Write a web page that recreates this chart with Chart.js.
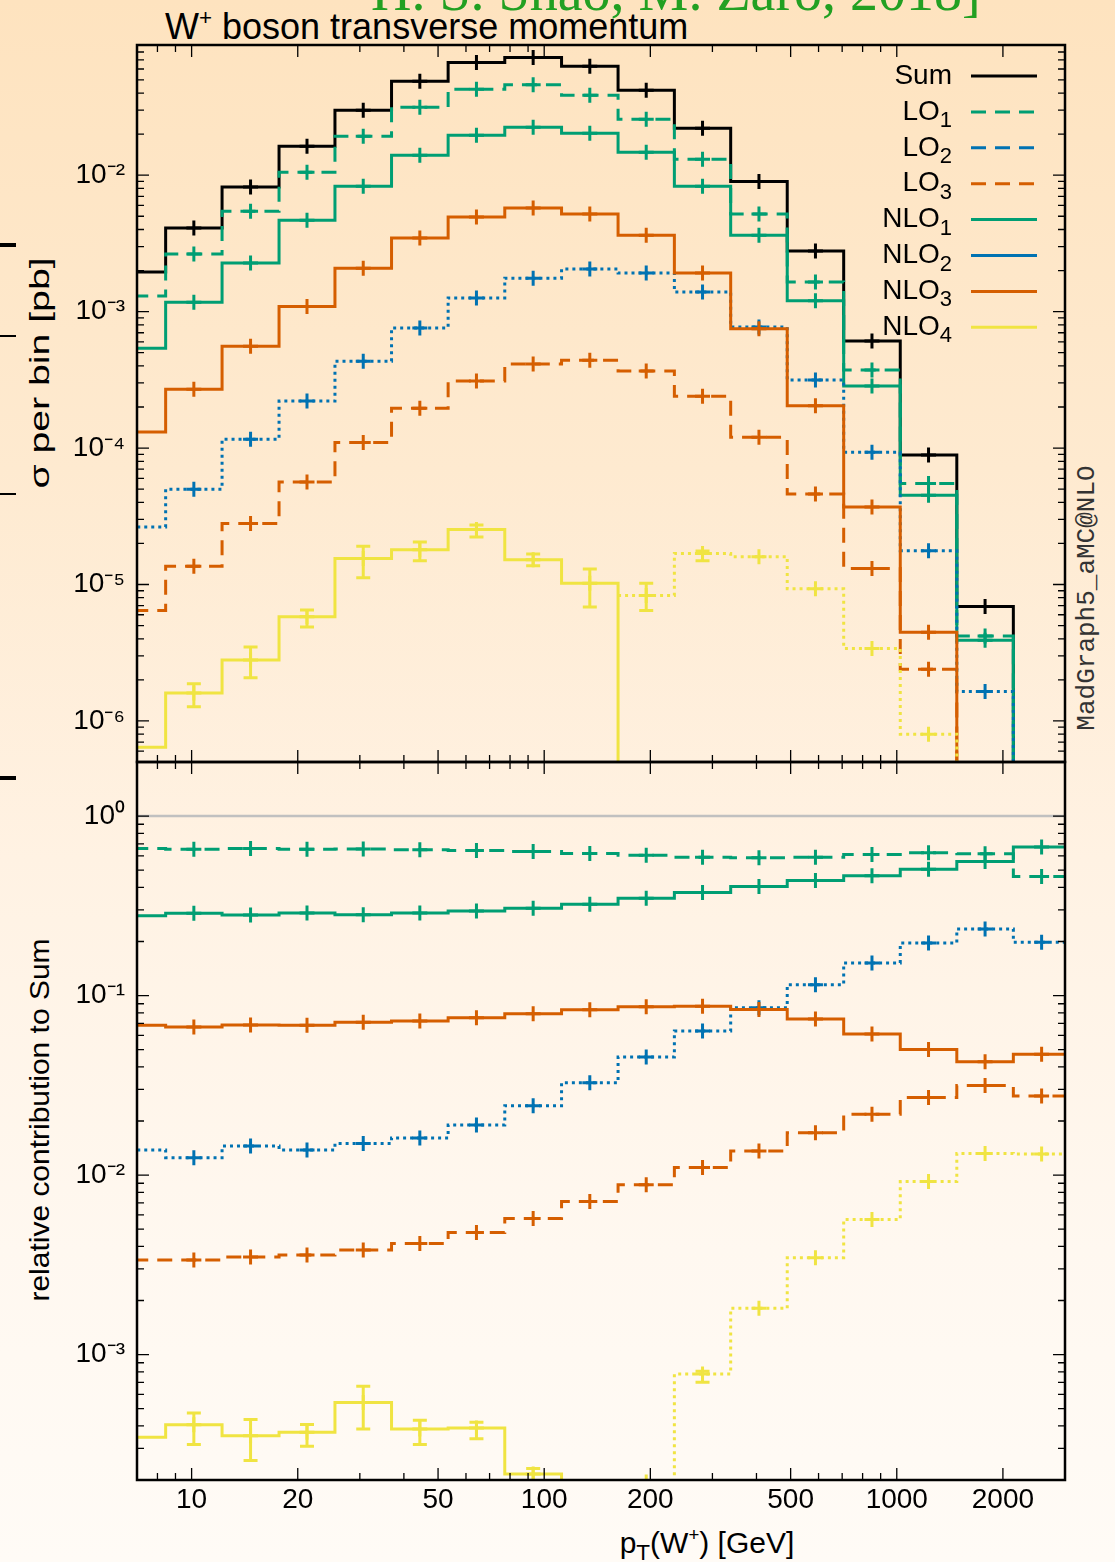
<!DOCTYPE html>
<html>
<head>
<meta charset="utf-8">
<title>W+ boson transverse momentum</title>
<script src="https://cdn.jsdelivr.net/npm/chart.js@4.4.1/dist/chart.umd.min.js"></script>
<style>
  html, body { margin: 0; padding: 0; }
  body {
    width: 1115px; height: 1562px; position: relative; overflow: hidden;
    background: linear-gradient(to bottom, #fee3bf 0%, #feead0 30%, #fff2e3 55%, #fff8f0 80%, #fffbf6 100%);
    font-family: "Liberation Sans", Arial, sans-serif; color: #000;
  }
  .abs { position: absolute; white-space: nowrap; }
  canvas { position: absolute; left: 0; }
  #topChart { top: 0; }
  #botChart { top: 700px; }
  .cite { left: 371px; top: -37px; font: 56px/1 "Liberation Serif", serif; color: #22a022; }
  .title { left: 165px; top: 9px; font-size: 36px; line-height: 1; }
  .sup { font-size: 0.62em; position: relative; top: -0.62em; }
  .sub { font-size: 0.75em; position: relative; top: 0.3em; }
  .ytitle { font-size: 28px; line-height: 30px; height: 30px; text-align: center; }
  .xtitle { left: 507px; top: 1528px; width: 400px; font-size: 30px; line-height: 1; text-align: center; }
  .mg { left: 927px; top: 584px; width: 320px; font: 26px/28px "Liberation Mono", monospace; color: #333;
        text-align: center; transform: rotate(-90deg); }
  .dash { left: 0; width: 16px; background: #000; }
</style>
</head>
<body>
<div class="abs cite">H. S. Shao, M. Zaro, 2018]</div>
<div class="abs title">W<span class="sup">+</span> boson transverse momentum</div>
<div class="abs ytitle" style="left:-110px; top:358px; width:300px; transform: rotate(-90deg) scaleX(1.4);">&sigma; per bin [pb]</div>
<div class="abs ytitle" style="left:-170px; top:1105px; width:420px; transform: rotate(-90deg) scaleX(1.07);">relative contribution to Sum</div>
<div class="abs xtitle">p<span class="sub">T</span>(W<span class="sup">+</span>) [GeV]</div>
<div class="abs mg">MadGraph5_aMC@NLO</div>
<div class="abs dash" style="top:243px; height:4px;"></div>
<div class="abs dash" style="top:335px; height:2px;"></div>
<div class="abs dash" style="top:493px; height:2px;"></div>
<div class="abs dash" style="top:776px; height:4px;"></div>

<canvas id="topChart" width="1115" height="800"></canvas>
<canvas id="botChart" width="1115" height="862"></canvas>

<script>
// ---- data ----
const binEdges = [5.84, 8.44, 12.2, 17.7, 25.5, 36.9, 53.4, 77.3, 112, 162, 234, 338, 489, 707, 1023, 1480, 2141, 3097];

// sigma per bin [pb]; negative entries are drawn dotted (absolute value)
const sumXsec  = [1.95e-3, 4.1e-3, 8.2e-3, 1.63e-2, 2.99e-2, 4.88e-2, 6.7e-2, 7.3e-2, 6.3e-2, 4.19e-2, 2.21e-2, 9.0e-3, 2.78e-3, 6.1e-4, 8.9e-5, 6.9e-6, 3e-7];
const lo1Xsec  = [1.30e-3, 2.64e-3, 5.44e-3, 1.05e-2, 1.93e-2, 3.15e-2, 4.27e-2, 4.6e-2, 3.86e-2, 2.57e-2, 1.31e-2, 5.19e-3, 1.65e-3, 3.73e-4, 5.5e-5, 4.2e-6, 1.4e-7];
const lo3Xsec  = [6.45e-6, 1.36e-5, 2.8e-5, 5.64e-5, 1.1e-4, 1.96e-4, 3.1e-4, 4.13e-4, 4.4e-4, 3.67e-4, 2.4e-4, 1.2e-4, 4.6e-5, 1.31e-5, 2.39e-6, 2.2e-7, 8e-9];
const nlo1Xsec = [5.4e-4, 1.17e-3, 2.27e-3, 4.68e-3, 8.3e-3, 1.40e-2, 1.96e-2, 2.25e-2, 2.03e-2, 1.47e-2, 8.3e-3, 3.63e-3, 1.2e-3, 2.85e-4, 4.5e-5, 3.9e-6, 2.0e-7];
const nlo2Xsec = [-2.64e-5, -5.0e-5, -1.16e-4, -2.21e-4, -4.33e-4, -7.6e-4, -1.26e-3, -1.76e-3, -2.05e-3, -1.92e-3, -1.39e-3, -7.7e-4, -3.16e-4, -9.3e-5, -1.77e-5, -1.64e-6, -6e-8];
const nlo3Xsec = [1.31e-4, 2.7e-4, 5.58e-4, 1.09e-3, 2.08e-3, 3.46e-3, 4.93e-3, 5.75e-3, 5.19e-3, 3.63e-3, 1.92e-3, 7.5e-4, 2.04e-4, 3.7e-5, 4.46e-6, 3e-7, 1.4e-8];
const nlo4Xsec = [6.4e-7, 1.6e-6, 2.8e-6, 5.8e-6, 1.55e-5, 1.8e-5, 2.53e-5, 1.52e-5, 1.02e-5, -8.3e-6, -1.69e-5, -1.6e-5, -9.3e-6, -3.4e-6, -8.0e-7, -9e-8, -4e-9];
const nlo4XsecLo = [null, 1.27e-6, 2.07e-6, 4.89e-6, 1.12e-5, 1.49e-5, 2.23e-5, 1.37e-5, 6.85e-6, 6.45e-6, 1.49e-5, null, null, null, null, null, null];
const nlo4XsecHi = [null, 1.87e-6, 3.48e-6, 6.5e-6, 1.91e-5, 2.05e-5, 2.73e-5, 1.67e-5, 1.3e-5, 1.02e-5, 1.76e-5, null, null, null, null, null, null];

// relative contribution to Sum
const sumRatio  = 1;
const lo1Ratio  = [0.659, 0.653, 0.659, 0.653, 0.656, 0.648, 0.643, 0.634, 0.618, 0.605, 0.590, 0.586, 0.590, 0.611, 0.624, 0.616, 0.46];
const lo3Ratio  = [0.00336, 0.00336, 0.00349, 0.00358, 0.00382, 0.00415, 0.00478, 0.00572, 0.00711, 0.00884, 0.011, 0.0136, 0.0172, 0.0218, 0.027, 0.0315, 0.0276];
const nlo1Ratio = [0.278, 0.287, 0.281, 0.288, 0.282, 0.288, 0.296, 0.306, 0.323, 0.348, 0.375, 0.405, 0.438, 0.465, 0.506, 0.558, 0.673];
const nlo2Ratio = [-0.0138, -0.0125, -0.0145, -0.0138, -0.015, -0.0161, -0.019, -0.0243, -0.0327, -0.0455, -0.0634, -0.0855, -0.115, -0.152, -0.196, -0.235, -0.198];
const nlo3Ratio = [0.0684, 0.0668, 0.0686, 0.0684, 0.071, 0.0722, 0.0751, 0.0791, 0.0832, 0.0865, 0.0871, 0.0835, 0.0741, 0.0611, 0.050, 0.0427, 0.0471];
const nlo4Ratio = [3.46e-4, 4.06e-4, 3.53e-4, 3.69e-4, 5.41e-4, 3.85e-4, 3.9e-4, 2.16e-4, 1.6e-4, -1.95e-4, -7.78e-4, -1.81e-3, -3.46e-3, -5.65e-3, -9.2e-3, -0.0132, -0.0131];
const nlo4RatioLo = [null, 3.15e-4, 2.57e-4, 3.08e-4, 3.85e-4, 3.15e-4, 3.39e-4, 1.9e-4, null, null, 7.0e-4, null, null, null, null, null, null];
const nlo4RatioHi = [null, 4.73e-4, 4.35e-4, 4.07e-4, 6.66e-4, 4.3e-4, 4.2e-4, 2.32e-4, null, null, 8.07e-4, null, null, null, null, null, null];

// axes
const xMajors = [10, 20, 50, 100, 200, 500, 1000, 2000];
const xMinors = [8, 9, 30, 40, 60, 70, 80, 90, 300, 400, 600, 700, 800, 900];
const yTopMajors = [1e-6, 1e-5, 1e-4, 1e-3, 1e-2];
const yBotMajors = [1e-3, 1e-2, 1e-1, 1];

const legendRows = [['Sum', ''], ['LO', '1'], ['LO', '2'], ['LO', '3'], ['NLO', '1'], ['NLO', '2'], ['NLO', '3'], ['NLO', '4']];

// ---- styles ----
const BLACK = '#000000', GREEN = '#009e73', BLUE = '#0072b2', ORANGE = '#d55e00', YELLOW = '#f0e442';
const DASH = [15, 9], DOT = [3, 4], SOLID = [];
const legendStyles = [[BLACK, SOLID], [GREEN, DASH], [BLUE, DASH], [ORANGE, DASH], [GREEN, SOLID], [BLUE, SOLID], [ORANGE, SOLID], [YELLOW, SOLID]];
const FONT = '"Liberation Sans", Arial, sans-serif';
const FLOOR = 1e-12;   // used to drop a histogram line out of the frame

Chart.defaults.font.family = FONT;

function minorsOf(majors, lo, hi) {
  const out = [];
  const d0 = Math.floor(Math.log10(lo)), d1 = Math.ceil(Math.log10(hi));
  for (let d = d0; d <= d1; d++) {
    for (let m = 2; m <= 9; m++) {
      const v = m * Math.pow(10, d);
      if (v > lo * 1.001 && v < hi * 0.999) out.push(v);
    }
  }
  return out;
}

const SUP = { '-': '\u207B', '0': '\u2070', '1': '\u00B9', '2': '\u00B2', '3': '\u00B3', '4': '\u2074', '5': '\u2075', '6': '\u2076', '7': '\u2077', '8': '\u2078', '9': '\u2079' };
function powLabel(v) {
  const e = Math.round(Math.log10(v));
  return '10' + String(e).split('').map(c => SUP[c]).join('');
}

// build step-line datasets (split where the sign changes) + cross markers
function histogram(values, color, dash, lo, hi) {
  const sets = [];
  let run = null;
  values.forEach((v, i) => {
    const neg = v < 0;
    if (!run || run.neg !== neg) {
      if (run) run.pts.push({ x: binEdges[i], y: FLOOR });
      run = { neg, pts: [] };
      sets.push(run);
    }
    run.pts.push({ x: binEdges[i], y: Math.abs(v) });
  });
  run.pts.push({ x: binEdges[values.length], y: FLOOR });

  const lines = sets.map(r => ({
    type: 'line', data: r.pts, borderColor: color, borderWidth: 3,
    borderDash: r.neg ? DOT : dash, stepped: 'before', pointRadius: 0, fill: false
  }));
  const marks = [], errLo = [], errHi = [];
  values.forEach((v, i) => {
    if (i === 0) return;
    marks.push({ x: Math.sqrt(binEdges[i] * binEdges[i + 1]), y: Math.abs(v) });
    errLo.push(lo ? lo[i] : null);
    errHi.push(hi ? hi[i] : null);
  });
  lines.push({
    type: 'line', data: marks, showLine: false, pointStyle: 'cross', pointRadius: 7.5,
    pointBorderWidth: 3, pointBorderColor: color, borderColor: color, clip: 0, errLo, errHi
  });
  return lines;
}

function ordered(list) {
  list.forEach((d, i) => { d.order = list.length - i; });
  return list;
}

const topDatasets = ordered([
  ...histogram(sumXsec, BLACK, SOLID),
  ...histogram(lo1Xsec, GREEN, DASH),
  ...histogram(lo3Xsec, ORANGE, DASH),
  ...histogram(nlo1Xsec, GREEN, SOLID),
  ...histogram(nlo2Xsec, BLUE, SOLID),
  ...histogram(nlo3Xsec, ORANGE, SOLID),
  ...histogram(nlo4Xsec, YELLOW, SOLID, nlo4XsecLo, nlo4XsecHi)
]);

const botDatasets = ordered([
  ...histogram(lo1Ratio, GREEN, DASH),
  ...histogram(lo3Ratio, ORANGE, DASH),
  ...histogram(nlo1Ratio, GREEN, SOLID),
  ...histogram(nlo2Ratio, BLUE, SOLID),
  ...histogram(nlo3Ratio, ORANGE, SOLID),
  ...histogram(nlo4Ratio, YELLOW, SOLID, nlo4RatioLo, nlo4RatioHi)
]);

// ---- plugins ----
const frameTicks = {
  id: 'frameTicks',
  afterDraw(chart, args, opts) {
    const { ctx, chartArea: a } = chart;
    const x = chart.scales.x, y = chart.scales.y;
    ctx.save();
    ctx.strokeStyle = '#000';
    ctx.lineWidth = 1.3;
    ctx.beginPath();
    const xt = xMajors.map(v => [v, 12]).concat(xMinors.map(v => [v, 7]));
    xt.forEach(([v, len]) => {
      const px = x.getPixelForValue(v);
      ctx.moveTo(px, a.bottom); ctx.lineTo(px, a.bottom - len);
      ctx.moveTo(px, a.top); ctx.lineTo(px, a.top + len);
    });
    const yt = opts.yMajors.map(v => [v, 12]).concat(minorsOf(opts.yMajors, y.min, y.max).map(v => [v, 7]));
    yt.forEach(([v, len]) => {
      const py = y.getPixelForValue(v);
      ctx.moveTo(a.left, py); ctx.lineTo(a.left + len, py);
      ctx.moveTo(a.right, py); ctx.lineTo(a.right - len, py);
    });
    ctx.stroke();
    ctx.lineWidth = 2.5;
    ctx.strokeRect(a.left, a.top, a.right - a.left, a.bottom - a.top);
    ctx.restore();
  }
};

const errorBars = {
  id: 'errorBars',
  afterDatasetsDraw(chart) {
    const { ctx, chartArea: a } = chart;
    const y = chart.scales.y;
    ctx.save();
    ctx.beginPath();
    ctx.rect(a.left, a.top, a.right - a.left, a.bottom - a.top);
    ctx.clip();
    chart.data.datasets.forEach((ds, i) => {
      if (!ds.errLo) return;
      const meta = chart.getDatasetMeta(i);
      ctx.strokeStyle = ds.pointBorderColor;
      ctx.lineWidth = 3;
      ds.errLo.forEach((lo, j) => {
        const hi = ds.errHi[j];
        if (lo == null || hi == null) return;
        const px = meta.data[j].x;
        const y1 = y.getPixelForValue(hi), y2 = y.getPixelForValue(lo);
        ctx.beginPath();
        ctx.moveTo(px, y1); ctx.lineTo(px, y2);
        ctx.moveTo(px - 7, y1); ctx.lineTo(px + 7, y1);
        ctx.moveTo(px - 7, y2); ctx.lineTo(px + 7, y2);
        ctx.stroke();
      });
    });
    ctx.restore();
  }
};

const refLine = {
  id: 'refLine',
  beforeDatasetsDraw(chart) {
    const { ctx, chartArea: a } = chart;
    const py = chart.scales.y.getPixelForValue(sumRatio);
    ctx.save();
    ctx.strokeStyle = '#c0c0c0';
    ctx.lineWidth = 2.5;
    ctx.beginPath();
    ctx.moveTo(a.left, py); ctx.lineTo(a.right, py);
    ctx.stroke();
    ctx.restore();
  }
};

const keyBox = {
  id: 'keyBox',
  afterDatasetsDraw(chart) {
    const ctx = chart.ctx;
    const textRight = 952, lineL = 971, lineR = 1037, row0 = 76, step = 35.9;
    ctx.save();
    ctx.textBaseline = 'middle';
    ctx.fillStyle = '#000';
    legendRows.forEach(([name, sub], i) => {
      const yy = row0 + i * step;
      ctx.font = '28px ' + FONT;
      const wMain = ctx.measureText(name).width;
      ctx.font = '22px ' + FONT;
      const wSub = sub ? ctx.measureText(sub).width : 0;
      const x0 = textRight - wMain - wSub;
      ctx.font = '28px ' + FONT;
      ctx.fillText(name, x0, yy);
      if (sub) {
        ctx.font = '22px ' + FONT;
        ctx.fillText(sub, x0 + wMain, yy + 9);
      }
      const [color, dash] = legendStyles[i];
      ctx.strokeStyle = color;
      ctx.lineWidth = 3;
      ctx.setLineDash(dash);
      ctx.beginPath();
      ctx.moveTo(lineL, yy); ctx.lineTo(lineR, yy);
      ctx.stroke();
      ctx.setLineDash([]);
    });
    ctx.restore();
  }
};

function yAxis(min, max, majors) {
  const ticks = majors.concat(minorsOf(majors, min, max)).sort((p, q) => p - q);
  return {
    type: 'logarithmic', min, max,
    afterFit: s => { s.width = 137; },
    afterBuildTicks: s => { s.ticks = ticks.map(v => ({ value: v })); },
    grid: { display: false, drawTicks: false },
    border: { display: false },
    ticks: {
      autoSkip: false, padding: 12, color: '#000', font: { size: 28 },
      callback: v => majors.some(m => Math.abs(m - v) / m < 1e-6) ? powLabel(v) : ''
    }
  };
}

const xTickList = xMajors.concat(xMinors).sort((p, q) => p - q);
function xAxis(show) {
  return {
    type: 'logarithmic', min: 7, max: 3000, display: show,
    afterFit: s => { s.height = show ? 82 : 0; },
    afterBuildTicks: s => { s.ticks = xTickList.map(v => ({ value: v })); },
    grid: { display: false, drawTicks: false },
    border: { display: false },
    ticks: {
      autoSkip: false, maxRotation: 0, padding: 3, color: '#000', font: { size: 28 },
      callback: v => xMajors.includes(v) ? String(v) : ''
    }
  };
}

const common = {
  responsive: false, animation: false, devicePixelRatio: 1,
  events: [],
  elements: { line: { tension: 0 } }
};

new Chart(document.getElementById('topChart'), {
  type: 'line',
  data: { datasets: topDatasets },
  options: {
    ...common,
    layout: { padding: { top: 45, right: 50, bottom: 38, left: 0 } },
    plugins: { legend: { display: false }, tooltip: { enabled: false }, frameTicks: { yMajors: yTopMajors } },
    scales: { x: xAxis(false), y: yAxis(5e-7, 0.09, yTopMajors) }
  },
  plugins: [frameTicks, errorBars, keyBox]
});

new Chart(document.getElementById('botChart'), {
  type: 'line',
  data: { datasets: botDatasets },
  options: {
    ...common,
    layout: { padding: { top: 62, right: 50, bottom: 0, left: 0 } },
    plugins: { legend: { display: false }, tooltip: { enabled: false }, frameTicks: { yMajors: yBotMajors } },
    scales: { x: xAxis(true), y: yAxis(2e-4, 2, yBotMajors) }
  },
  plugins: [refLine, frameTicks, errorBars]
});
</script>
</body>
</html>
